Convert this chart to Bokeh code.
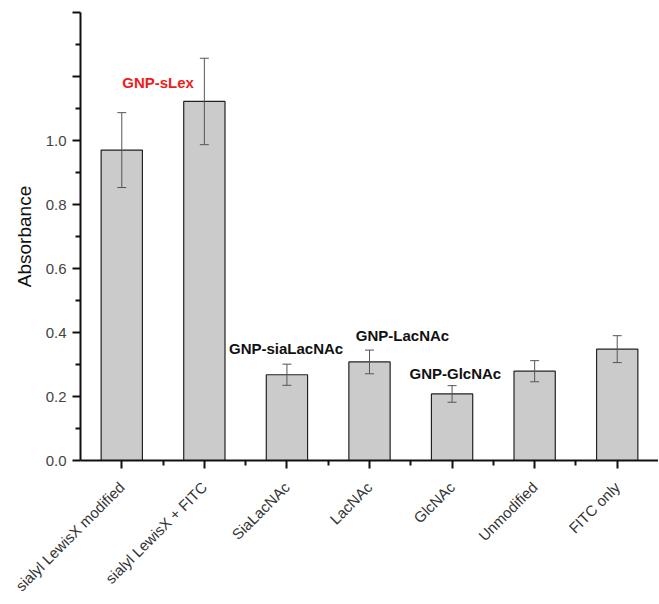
import math
from bokeh.plotting import figure
from bokeh.models import ColumnDataSource, Whisker, TeeHead, FixedTicker, Label, Range1d
from bokeh.embed import file_html
from bokeh.resources import INLINE

categories = ["sialyl LewisX modified", "sialyl LewisX + FITC", "SiaLacNAc", "LacNAc",
              "GlcNAc", "Unmodified", "FITC only"]
values = [0.970, 1.122, 0.268, 0.308, 0.208, 0.279, 0.348]
errors = [0.117, 0.135, 0.033, 0.037, 0.026, 0.033, 0.042]
y_ticks = [0.0, 0.2, 0.4, 0.6, 0.8, 1.0, 1.2, 1.4]
y_tick_labels = ["0.0", "0.2", "0.4", "0.6", "0.8", "1.0", "", ""]
annotations = ["GNP-sLex", "GNP-siaLacNAc", "GNP-LacNAc", "GNP-GlcNAc"]
annot_x = [1.44, 2.99, 4.40, 5.04]
annot_y = [1.18, 0.35, 0.39, 0.271]
annot_colors = ["#ee1c1c", "#111111", "#111111", "#111111"]

xs = list(range(1, len(categories) + 1))
src = ColumnDataSource(dict(
    x=xs, top=values,
    upper=[v + e for v, e in zip(values, errors)],
    lower=[v - e for v, e in zip(values, errors)],
))

FONT = "Liberation Sans"

p = figure(width=658, height=604, output_backend="svg", toolbar_location=None,
           x_range=Range1d(0.5, 7.5), y_range=Range1d(0, 1.4),
           min_border_left=80, min_border_right=0, min_border_top=12, min_border_bottom=144)
p.outline_line_color = None
p.xgrid.visible = False
p.ygrid.visible = False
p.background_fill_color = "white"

p.vbar(x="x", top="top", width=0.5, bottom=0, source=src,
       fill_color="#cbcbcb", line_color="#222222", line_width=1.2)

w = Whisker(base="x", upper="upper", lower="lower", source=src, level="overlay",
            line_color="#555555", line_width=1,
            upper_head=TeeHead(size=9, line_color="#555555", line_width=1),
            lower_head=TeeHead(size=9, line_color="#555555", line_width=1))
p.add_layout(w)

# y axis
p.yaxis.ticker = FixedTicker(ticks=y_ticks, minor_ticks=[0.1, 0.3, 0.5, 0.7, 0.9, 1.1, 1.3])
p.yaxis.major_label_overrides = {t: l for t, l in zip(y_ticks, y_tick_labels)}
p.yaxis.axis_label = "Absorbance"
p.yaxis.axis_label_text_font = FONT
p.yaxis.axis_label_text_font_style = "normal"
p.yaxis.axis_label_text_font_size = "19px"
p.yaxis.axis_label_text_color = "#111111"
p.yaxis.axis_label_standoff = 8
p.yaxis.major_label_text_font = FONT
p.yaxis.major_label_text_font_size = "15px"
p.yaxis.major_label_text_color = "#444444"
p.yaxis.major_label_standoff = 6
p.yaxis.axis_line_width = 2
p.yaxis.axis_line_color = "#111111"
p.yaxis.major_tick_line_width = 2
p.yaxis.major_tick_line_color = "#111111"
p.yaxis.minor_tick_line_width = 2
p.yaxis.minor_tick_line_color = "#111111"
p.yaxis.major_tick_out = 8
p.yaxis.major_tick_in = 0
p.yaxis.minor_tick_out = 5
p.yaxis.minor_tick_in = 0

# x axis
p.xaxis.ticker = FixedTicker(ticks=xs, minor_ticks=[1.5, 2.5, 3.5, 4.5, 5.5, 6.5])
p.xaxis.major_label_overrides = {x: c for x, c in zip(xs, categories)}
p.xaxis.major_label_orientation = math.pi / 4
p.xaxis.major_label_text_font = FONT
p.xaxis.major_label_text_font_size = "15px"
p.xaxis.major_label_text_color = "#333333"
p.xaxis.major_label_standoff = 16
p.xaxis.axis_line_width = 2
p.xaxis.axis_line_color = "#111111"
p.xaxis.major_tick_line_width = 2
p.xaxis.major_tick_line_color = "#111111"
p.xaxis.minor_tick_line_width = 2
p.xaxis.minor_tick_line_color = "#111111"
p.xaxis.major_tick_out = 8
p.xaxis.major_tick_in = 0
p.xaxis.minor_tick_out = 5
p.xaxis.minor_tick_in = 0

for t, ax, ay, c in zip(annotations, annot_x, annot_y, annot_colors):
    p.add_layout(Label(x=ax, y=ay, text=t, text_font=FONT, text_font_style="bold",
                       text_font_size="15px", text_color=c,
                       text_align="center", text_baseline="middle"))

open("out.html", "w").write(file_html(p, INLINE))
